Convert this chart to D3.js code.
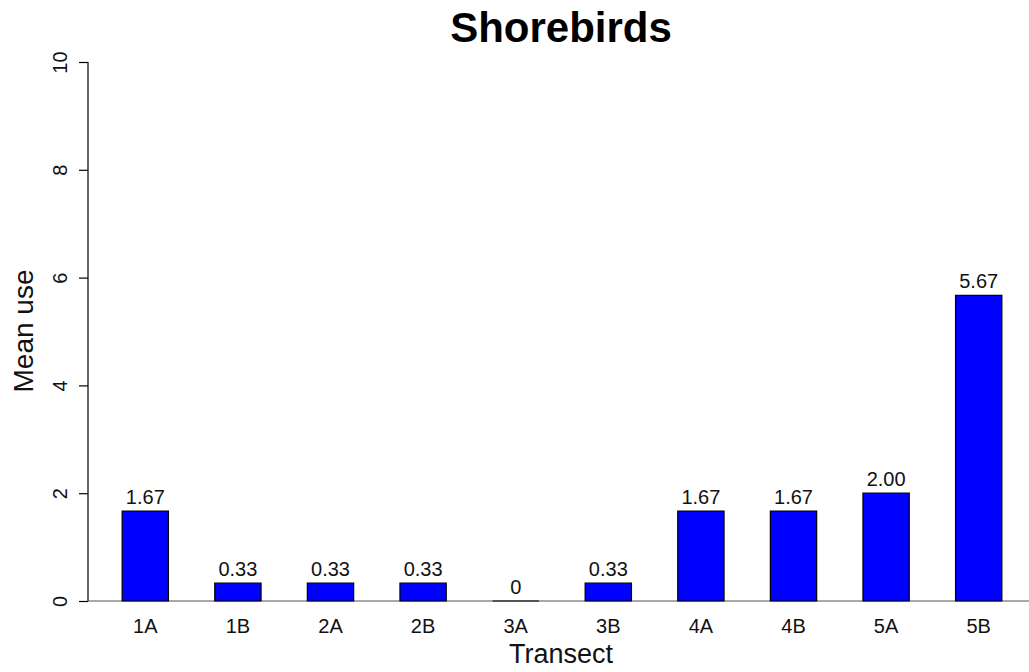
<!DOCTYPE html>
<html>
<head>
<meta charset="utf-8">
<script src="https://cdn.jsdelivr.net/npm/d3@7"></script>
<style>
  html, body { margin: 0; padding: 0; background: #fff; }
  svg { display: block; font-family: "Liberation Sans", Arial, Helvetica, sans-serif; }
</style>
</head>
<body>
<svg id="chart" width="1029" height="672"></svg>
<script>
const categories = ["1A", "1B", "2A", "2B", "3A", "3B", "4A", "4B", "5A", "5B"];
const meanUse = [1.67, 0.33, 0.33, 0.33, 0, 0.33, 1.67, 1.67, 2.00, 5.67];
const valueLabels = ["1.67", "0.33", "0.33", "0.33", "0", "0.33", "1.67", "1.67", "2.00", "5.67"];
const yTicks = [0, 2, 4, 6, 8, 10];
const titleText = "Shorebirds";
const xTitle = "Transect";
const yTitle = "Mean use";

const svg = d3.select("#chart");
const plot = { left: 88, right: 1029, top: 62, bottom: 601 };

const y = d3.scaleLinear().domain([0, 10]).range([plot.bottom, plot.top]);
const x = d3.scaleBand().domain(categories).range([99, 1025])
  .paddingInner(0.5).paddingOuter(0.25);

// Title
svg.append("text")
  .attr("x", 561).attr("y", 42)
  .attr("text-anchor", "middle")
  .attr("font-size", 42).attr("font-weight", "bold")
  .attr("fill", "#000")
  .text(titleText);

// Baseline (x axis line)
svg.append("line")
  .attr("x1", plot.left).attr("x2", plot.right)
  .attr("y1", y(0)).attr("y2", y(0))
  .attr("stroke", "#555").attr("stroke-width", 1.2);

// Bars (as paths so zero-height bars still show their outline)
svg.selectAll("path.bar").data(categories).join("path")
  .attr("class", "bar")
  .attr("d", (d, i) => {
    const x0 = x(d), x1 = x(d) + x.bandwidth();
    const y0 = y(0), y1 = y(meanUse[i]);
    return `M${x0},${y0}V${y1}H${x1}V${y0}Z`;
  })
  .attr("fill", "#0000ff")
  .attr("stroke", "#000").attr("stroke-width", 1.2);

// Value labels
svg.selectAll("text.val").data(categories).join("text")
  .attr("class", "val")
  .attr("x", d => x(d) + x.bandwidth() / 2)
  .attr("y", (d, i) => y(meanUse[i]) - 7)
  .attr("text-anchor", "middle")
  .attr("font-size", 20).attr("fill", "#111")
  .text((d, i) => valueLabels[i]);

// Y axis
const yAxis = d3.axisLeft(y).tickValues(yTicks).tickSize(9).tickPadding(12)
  .tickFormat(d3.format("d"));
const gy = svg.append("g").attr("transform", `translate(${plot.left},0)`).call(yAxis);
gy.select(".domain").attr("stroke", "#000").attr("stroke-width", 1.2)
  .attr("d", `M-0,${y(10)}V${y(0)}`);
gy.selectAll(".tick line").attr("stroke", "#000").attr("stroke-width", 1.2);
gy.selectAll(".tick text")
  .attr("font-size", 20).attr("fill", "#111")
  .attr("font-family", "Liberation Sans, Arial, sans-serif")
  .attr("transform", "rotate(-90)")
  .attr("x", 0).attr("y", -21)
  .attr("dy", 0)
  .attr("text-anchor", "middle");

// X axis labels (no ticks)
const xAxis = d3.axisBottom(x).tickSize(0).tickPadding(0);
const gx = svg.append("g").attr("transform", `translate(0,${y(0)})`).call(xAxis);
gx.select(".domain").remove();
gx.selectAll(".tick text")
  .attr("font-size", 20).attr("fill", "#111")
  .attr("font-family", "Liberation Sans, Arial, sans-serif")
  .attr("y", 32).attr("dy", 0);

// Axis titles
svg.append("text")
  .attr("x", 561).attr("y", 663)
  .attr("text-anchor", "middle")
  .attr("font-size", 27).attr("fill", "#111")
  .text(xTitle);

svg.append("text")
  .attr("transform", `translate(33,331) rotate(-90)`)
  .attr("text-anchor", "middle")
  .attr("font-size", 28).attr("fill", "#111")
  .text(yTitle);
</script>
</body>
</html>
